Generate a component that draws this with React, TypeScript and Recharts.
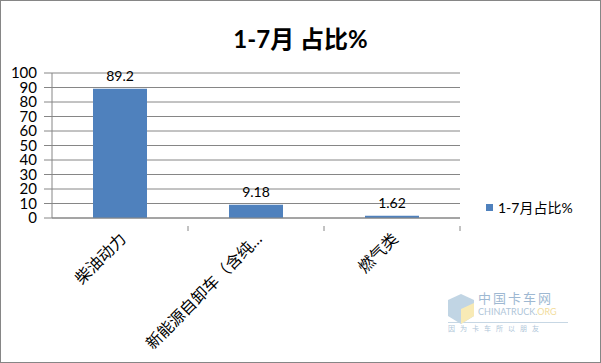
import { BarChart, Bar, XAxis, YAxis, CartesianGrid, LabelList } from "recharts";

const categories = ["柴油动力", "新能源自卸车（含纯…", "燃气类"];
const shares = [89.2, 9.18, 1.62];
const yTicks = [0, 10, 20, 30, 40, 50, 60, 70, 80, 90, 100];
const seriesName = "1-7月占比%";

const data = categories.map((name, i) => ({ name, share: shares[i] }));

const FONT = "Lato, 'Noto Sans CJK SC', sans-serif";
const BAND = 136;

function CategoryTick(props: any) {
  const { x, y, payload } = props;
  return (
    <g>
      <line x1={x + BAND / 2} y1={y} x2={x + BAND / 2} y2={y + 5} stroke="#868686" />
      <text
        x={x + 7}
        y={y + 14}
        transform={`rotate(-45 ${x + 7} ${y + 14})`}
        textAnchor="end"
        fontSize={16}
        fontFamily={FONT}
        fill="#000"
      >
        {payload.value}
      </text>
    </g>
  );
}

export default function App() {
  return (
    <div style={{ position: "fixed", left: 0, top: 0, width: 601, height: 363, background: "#fff" }}>
      <div
        style={{
          position: "absolute",
          left: 0,
          top: 0,
          width: 599,
          height: 361,
          border: "1px solid #868686",
        }}
      />
      <div
        style={{
          position: "absolute",
          left: 0,
          top: 20,
          width: 601,
          textAlign: "center",
          fontFamily: FONT,
          fontWeight: "bold",
          fontSize: 24,
          color: "#000",
        }}
      >
        1-7月 占比%
      </div>
      <BarChart
        width={601}
        height={363}
        data={data}
        margin={{ top: 73, right: 141, bottom: 0, left: 7 }}
        style={{ position: "absolute", left: 0, top: 0 }}
      >
        <CartesianGrid vertical={false} stroke="#868686" />
        <XAxis
          dataKey="name"
          axisLine={{ stroke: "#868686" }}
          tickLine={false}
          interval={0}
          tick={<CategoryTick />}
          height={145}
        />
        <YAxis
          domain={[0, 100]}
          ticks={yTicks}
          width={45}
          axisLine={{ stroke: "#868686" }}
          tickLine={{ stroke: "#868686" }}
          tickSize={8}
          tickMargin={7}
          interval={0}
          tick={{ fill: "#000", fontSize: 15, fontFamily: FONT }}
        />
        <Bar dataKey="share" name={seriesName} fill="#4F81BD" barSize={54} isAnimationActive={false}>
          <LabelList
            dataKey="share"
            position="top"
            offset={8}
            style={{ fill: "#000", fontSize: 14, fontFamily: FONT }}
          />
        </Bar>
      </BarChart>
      <div
        style={{
          position: "absolute",
          left: 486,
          top: 197,
          display: "flex",
          alignItems: "center",
          fontFamily: FONT,
          fontSize: 14,
          color: "#000",
        }}
      >
        <span style={{ width: 7, height: 7, background: "#4F81BD", marginRight: 5, display: "inline-block" }} />
        {seriesName}
      </div>
      <div
        style={{
          position: "absolute",
          left: 448,
          top: 292,
          width: 120,
          fontFamily: FONT,
          opacity: 0.55,
          lineHeight: 1,
        }}
      >
        <svg width={26} height={30} style={{ position: "absolute", left: 0, top: 2 }}>
          <polygon points="13,0 26,6 26,22 13,30 0,22 0,6" fill="#8fb3cf" />
          <polygon points="13,15 26,9 26,22 13,30" fill="#f3da7a" />
        </svg>
        <div style={{ marginLeft: 30, fontSize: 13, color: "#4f7fae", letterSpacing: 2 }}>中国卡车网</div>
        <div style={{ marginLeft: 30, fontSize: 9, color: "#6c95b8", marginTop: 2 }}>
          CHINATRUCK.<span style={{ color: "#e8c24a" }}>ORG</span>
        </div>
        <div
          style={{
            fontSize: 7,
            color: "#6c95b8",
            letterSpacing: 5,
            borderTop: "1px solid #9bb8cf",
            marginTop: 6,
            paddingTop: 2,
          }}
        >
          因为卡车所以朋友
        </div>
      </div>
    </div>
  );
}
